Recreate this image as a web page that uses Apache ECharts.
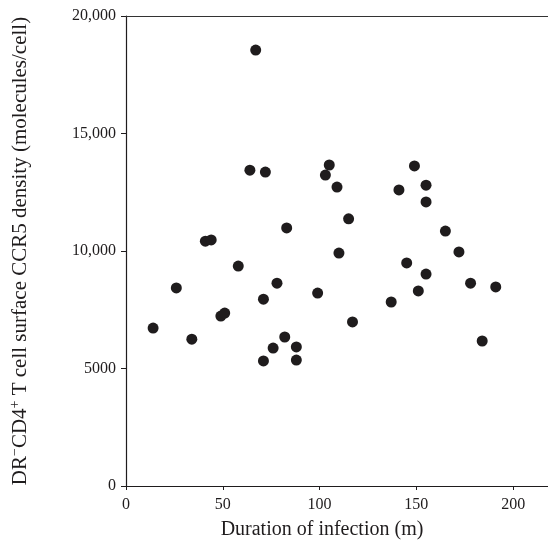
<!DOCTYPE html>
<html>
<head>
<meta charset="utf-8">
<script src="https://cdn.jsdelivr.net/npm/echarts@6/dist/echarts.min.js"></script>
<style>
  html, body { margin: 0; padding: 0; background: #fff; }
  #scatter { width: 548px; height: 548px; }
</style>
</head>
<body>
<div id="scatter"></div>
<script>
// duration of infection (months) and CCR5 density
var duration = [14, 26, 34, 41, 44, 49, 51, 58, 64, 67, 71, 71, 72, 76, 78, 82, 83, 88, 88,
    99, 103, 105, 109, 110, 115, 117, 137, 141, 145, 149, 151, 155, 155, 155, 165, 172, 178, 184, 191];
var ccr5 = [6720, 8430, 6250, 10420, 10470, 7230, 7360, 9360, 13440, 18550, 5320, 7950, 13360, 5870, 8630, 6340, 10980, 5920, 5360,
    8210, 13230, 13660, 12720, 9910, 11370, 6980, 7830, 12600, 9490, 13620, 8300, 12800, 12090, 9020, 10850, 9960, 8630, 6170, 8470];
var yTickLabels = ['0', '5000', '10,000', '15,000', '20,000'];
var xTickLabels = ['0', '50', '100', '150', '200'];

var points = [];
for (var i = 0; i < duration.length; i++) {
    points.push([duration[i], ccr5[i]]);
}

var ink = '#1f1c1d';
var serif = '"Liberation Serif", "DejaVu Serif", serif';

var myChart = echarts.init(document.getElementById('scatter'));
myChart.setOption({
    animation: false,
    grid: { left: 125, right: 0, top: 16, bottom: 62 },
    xAxis: [{
        type: 'value',
        min: 0,
        max: 218,
        interval: 50,
        name: 'Duration of infection (m)',
        nameLocation: 'middle',
        nameGap: 34,
        nameTextStyle: { fontFamily: serif, fontSize: 20, color: ink, padding: [0, 30, 0, 0] },
        axisLine: { lineStyle: { color: ink, width: 1.2 } },
        axisTick: { length: 4, lineStyle: { color: ink } },
        axisLabel: {
            margin: 11, fontFamily: serif, fontSize: 16, color: ink, showMaxLabel: false,
            formatter: function (v) { return xTickLabels[v / 50] || ''; }
        },
        splitLine: { show: false }
    }, {
        type: 'value',
        position: 'top',
        min: 0,
        max: 218,
        interval: 50,
        axisLine: { show: true, lineStyle: { color: '#333', width: 1.2 } },
        axisTick: { show: false },
        axisLabel: { show: false },
        splitLine: { show: false }
    }],
    yAxis: {
        type: 'value',
        min: 0,
        max: 20000,
        interval: 5000,
        name: '{a|DR}{s|−}{a|CD4}{s|+}{a| T cell surface CCR5 density (molecules/cell)}',
        nameLocation: 'middle',
        nameGap: 94,
        nameTextStyle: {
            fontFamily: serif, fontSize: 21, color: ink,
            rich: {
                a: { fontFamily: serif, fontSize: 21, color: ink },
                s: { fontFamily: serif, fontSize: 14, color: ink, padding: [0, 0, 10, 0] }
            }
        },
        axisLine: { show: true, lineStyle: { color: ink, width: 1.2 } },
        axisTick: { show: true, length: 5, lineStyle: { color: ink } },
        axisLabel: {
            margin: 10, fontFamily: serif, fontSize: 16, color: ink,
            formatter: function (v) { return yTickLabels[v / 5000] || ''; }
        },
        splitLine: { show: false }
    },
    series: [{
        type: 'scatter',
        data: points,
        symbol: 'circle',
        symbolSize: 11,
        itemStyle: { color: ink, opacity: 1 }
    }]
});
</script>
</body>
</html>
